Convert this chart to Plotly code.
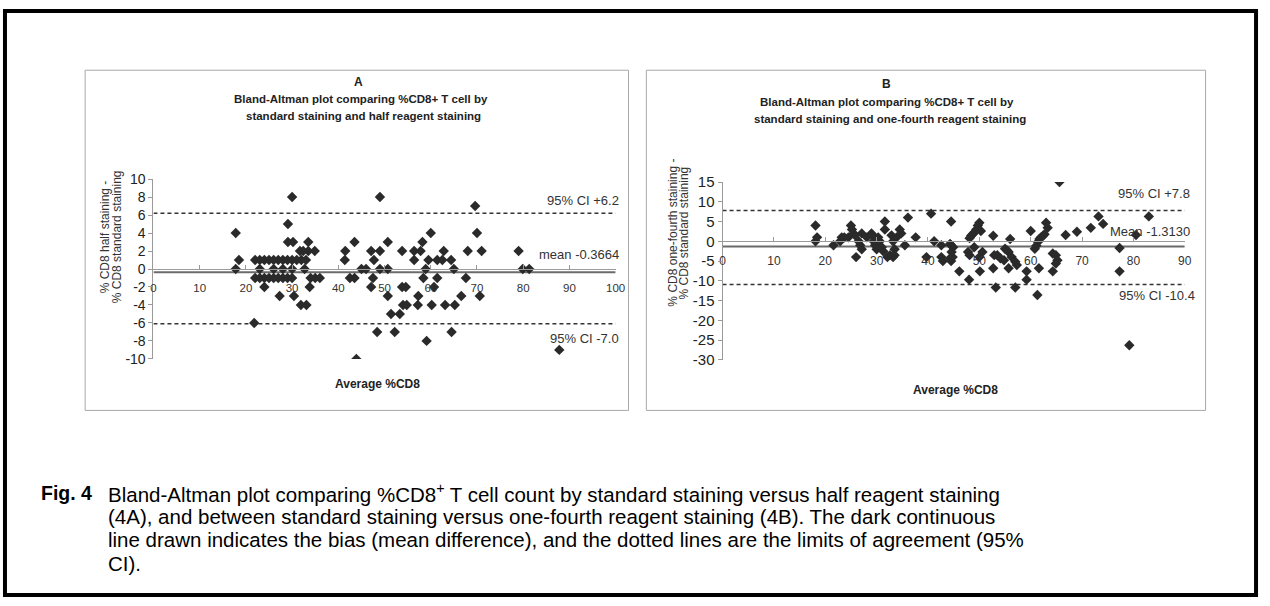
import plotly.graph_objects as go

W, H = 1270, 606

# ---------------- data ----------------
# Panel A: average %CD8 vs difference (half - standard)
a_x = [17.8, 17.8, 18.5, 21.8,
       22, 23, 24, 25, 26, 27, 28, 29, 30, 31, 32, 33,
       22, 23, 24, 25, 26, 27, 28, 29, 30, 34, 35, 36,
       23, 26, 28, 30, 32.7,
       31.7, 32.4, 33.5, 34.9, 41.5, 47.1, 49,
       29.1, 30.2, 33.5, 43.5, 50.7, 58.2,
       29.1,
       30, 49,
       24, 33.8, 47.1, 53.8, 54.6, 60.7,
       27.3, 30.4, 50.7, 57.3, 66.6, 70.6,
       31.9, 33.1, 54, 54.8, 57.2, 60.2, 63.1, 65.2,
       41.4, 47.7, 56.4, 59.5, 61.4, 62.5, 64.4,
       42.5, 43.5, 47.5, 58.4, 61.4, 67.6,
       45, 46, 49, 50.7, 58.9, 65, 79.9, 81.3,
       53.8, 56.4, 57.8, 62.8, 68, 71, 79,
       60, 70,
       69.6,
       51.4, 53.3,
       52.2, 64.5, 48.4,
       59.1,
       87.8,
       43.9]
a_y = [4, 0, 1, -6,
       1, 1, 1, 1, 1, 1, 1, 1, 1, 1, 1, 1,
       -1, -1, -1, -1, -1, -1, -1, -1, -1, -1, -1, -1,
       0, 0, 0, 0, 0,
       2, 2, 2, 2, 2, 2, 2,
       3, 3, 3, 3, 3, 3,
       5,
       8, 8,
       -2, -2, -2, -2, -2, -2,
       -3, -3, -3, -3, -3, -3,
       -4, -4, -4, -4, -4, -4, -4, -4,
       1, 1, 1, 1, 1, 1, 1,
       -1, -1, -1, -1, -1, -1,
       0, 0, 0, 0, 0, 0, 0, 0,
       2, 2, 2, 2, 2, 2, 2,
       4, 4,
       7,
       -5, -5,
       -7, -7, -7,
       -8,
       -9,
       -10]
a_mean, a_upper, a_lower = -0.3664, 6.2, -6.1
a_labels = ["95% CI +6.2", "mean -0.3664", "95% CI -7.0"]

# Panel B: average %CD8 vs difference (one-fourth - standard)
b_x = [18.1, 18.1, 18.4, 21.6, 22.9, 23.2, 23.7, 24.5, 25.0, 25.2, 25.5, 25.8,
       26.0, 26.5, 26.8, 27.1, 27.1, 28.1, 29.0, 29.2, 29.4, 29.7, 30.0,
       30.3, 30.6, 31.0, 31.3, 31.6, 31.6, 32.1, 32.6, 32.9, 33.2, 33.5, 33.9,
       33.2, 33.5, 34.5, 34.8, 35.5, 36.1, 37.6, 39.7, 40.6, 41.2, 42.6, 42.6,
       42.9, 44.5, 44.8, 44.5, 44.5,
       50.0, 49.7, 49.4, 49.0, 48.7, 48.4, 48.1, 50.3, 44.3, 44.9, 44.6, 44.3,
       47.8, 48.1, 49.0, 50.0, 50.6, 46.1, 48.0, 50.1, 52.7, 52.7, 53.2,
       52.9, 53.5, 54.1, 54.8, 55.0, 55.4, 55.7, 56.0, 55.7, 56.3, 57.0, 57.3,
       57.0, 59.2, 59.2, 60.0, 61.6, 61.3, 60.8, 61.1, 61.4, 61.7, 62.0, 62.4,
       62.7, 63.3, 63.0, 64.3, 64.3, 64.9, 65.2, 64.9, 65.6, 66.8, 69.0, 71.7,
       73.2, 74.1, 77.3, 77.3, 80.5, 83.0, 79.2]
b_y = [4, 0, 1, -1, 0, 1, 1, 1, 4, 3, 2, 1.5,
       -4, 0, -1, -2, 2, 1, 2, 1.5, 0, -1, -2,
       1, 0, -1.5, -2.5, 5, 3, -4, -3.5, 1.5, 0, -2, 1,
       -4, -3.5, 3, 2, -1, 6, 1, -4, 7, 0, -1, -4,
       -5, -1, -4, -5, 5,
       4.7, 4, 3, 2.2, 1.8, 1.4, 0.8, 2.6, -0.7, -1.5, -2.7, -4.3,
       -2.7, -3.5, -1.5, -4, -2.7, -7.6, -9.7, -7.6, 1.4, -6.8, -11.7,
       -3.5, -3.5, -4.3, -4.8, -1.9, -2.3, -2.7, 0.6, -6.8, -4, -5.2, -6,
       -11.7, -7.6, -9.7, 2.6, -6.8, -13.6, -1.9, -1.1, -0.2, 0.6, 1, 1.4,
       1.8, 3.4, 4.7, -7.6, -3.1, -3.5, -4.8, -5.6, 15, 1.6, 2.4, 3.4,
       6.3, 4.4, -1.7, -7.6, 1.6, 6.3, -26.3]
b_mean, b_upper, b_lower = -1.3130, 7.8, -10.9
b_labels = ["95% CI +7.8", "Mean -1.3130", "95% CI -10.4"]

a_xticks = [0, 10, 20, 30, 40, 50, 60, 70, 80, 90, 100]
a_yticks = [10, 8, 6, 4, 2, 0, -2, -4, -6, -8, -10]
b_xticks = [0, 10, 20, 30, 40, 50, 60, 70, 80, 90]
b_yticks = [15, 10, 5, 0, -5, -10, -15, -20, -25, -30]

a_ytitle = ["% CD8 half staining -", "% CD8 standard staining"]
b_ytitle = ["% CD8 one-fourth staining -", "% CD8 standard staining"]

caption = [
    "Bland-Altman plot comparing %CD8<sup>+</sup> T cell count by standard staining versus half reagent staining",
    "(4A), and between standard staining versus one-fourth reagent staining (4B). The dark continuous",
    "line drawn indicates the bias (mean difference), and the dotted lines are the limits of agreement (95%",
    "CI).",
]

# ---------------- helpers ----------------
def px(x):
    return x / W

def py(y):
    return 1 - y / H

ARIAL = "Liberation Sans, Arial, sans-serif"
DARK = "#2a2a2a"

fig = go.Figure()

# panel A traces
fig.add_trace(go.Scatter(x=[0, 100], y=[a_mean, a_mean], mode="lines",
                         line=dict(color="#6b6b6b", width=2), xaxis="x", yaxis="y",
                         showlegend=False, hoverinfo="skip"))
for v in (a_upper, a_lower):
    fig.add_trace(go.Scatter(x=[0, 100], y=[v, v], mode="lines",
                             line=dict(color="#333", width=1.5, dash="4px,3px"),
                             xaxis="x", yaxis="y", showlegend=False, hoverinfo="skip"))
fig.add_trace(go.Scatter(x=a_x, y=a_y, mode="markers",
                         marker=dict(symbol="diamond", size=8, color=DARK),
                         xaxis="x", yaxis="y", showlegend=False))

# panel B traces
fig.add_trace(go.Scatter(x=[0, 90], y=[b_mean, b_mean], mode="lines",
                         line=dict(color="#6b6b6b", width=2), xaxis="x2", yaxis="y2",
                         showlegend=False, hoverinfo="skip"))
for v in (b_upper, b_lower):
    fig.add_trace(go.Scatter(x=[0, 90], y=[v, v], mode="lines",
                             line=dict(color="#333", width=1.5, dash="4px,3px"),
                             xaxis="x2", yaxis="y2", showlegend=False, hoverinfo="skip"))
fig.add_trace(go.Scatter(x=b_x, y=b_y, mode="markers",
                         marker=dict(symbol="diamond", size=8, color=DARK),
                         xaxis="x2", yaxis="y2", showlegend=False))

# axes geometry (pixels)
A_X0, A_X1, A_YT, A_YB = 152, 619, 175, 360
B_X0, B_X1, B_YT, B_YB = 727, 1194, 178, 361

def zero_pos(yt, yb, top, bot):
    return yt + (yb - yt) * top / (top - bot)

a_zero = zero_pos(A_YT, A_YB, 10, -10)
b_zero = zero_pos(B_YT, B_YB, 15, -30)

xcommon = dict(showgrid=False, zeroline=False, showline=True, linecolor="#9a9a9a",
               linewidth=1, ticks="inside", ticklen=4, tickcolor="#9a9a9a",
               anchor="free", ticklabelstandoff=8)
ycommon = dict(showgrid=False, zeroline=False, showline=True, linecolor="#9a9a9a",
               linewidth=1, ticks="outside", ticklen=4, tickcolor="#9a9a9a")

fig.update_layout(
    width=W, height=H, margin=dict(l=0, r=0, t=0, b=0),
    paper_bgcolor="white", plot_bgcolor="white",
    xaxis=dict(domain=[px(A_X0), px(A_X1)], range=[0, 100], tickvals=a_xticks,
               ticktext=[str(v) for v in a_xticks],
               position=py(a_zero), tickfont=dict(family=ARIAL, size=11.5, color="#333"),
               **xcommon),
    yaxis=dict(domain=[py(A_YB), py(A_YT)], range=[-10, 10], tickvals=a_yticks,
               ticktext=[str(v) for v in a_yticks],
               anchor="x", tickfont=dict(family=ARIAL, size=14, color="#222"), **ycommon),
    xaxis2=dict(domain=[px(B_X0), px(B_X1)], range=[0, 90], tickvals=b_xticks,
                ticktext=[str(v) for v in b_xticks],
                position=py(b_zero), tickfont=dict(family=ARIAL, size=12, color="#333"),
                **xcommon),
    yaxis2=dict(domain=[py(B_YB), py(B_YT)], range=[-30, 15], tickvals=b_yticks,
                ticktext=[str(v) for v in b_yticks],
                anchor="x2", tickfont=dict(family=ARIAL, size=15, color="#222"), **ycommon),
)

ann = []
def text(x, y, s, size=12, family=ARIAL, bold=False, xanchor="center", angle=0, color="#222"):
    ann.append(dict(x=px(x), y=py(y), xref="paper", yref="paper", text=(f"<b>{s}</b>" if bold else s),
                    showarrow=False, xanchor=xanchor, yanchor="middle", textangle=angle,
                    font=dict(family=family, size=size, color=color), align="center"))

# panel titles
text(359, 75, "A", 12, ARIAL, True)
text(362, 93, "Bland-Altman plot comparing %CD8+ T cell by", 11.5, ARIAL, True)
text(364, 110, "standard staining and half reagent staining", 11.5, ARIAL, True)
text(893, 77, "B", 12, ARIAL, True)
text(893, 96, "Bland-Altman plot comparing %CD8+ T cell by", 11.5, ARIAL, True)
text(896, 113, "standard staining and one-fourth reagent staining", 11.5, ARIAL, True)

# axis titles
text(378, 386, "Average %CD8", 12, ARIAL, True)
text(962, 392, "Average %CD8", 12, ARIAL, True)
text(104, 234, a_ytitle[0], 12, ARIAL, False, angle=-90, color="#333")
text(116, 234, a_ytitle[1], 12, ARIAL, False, angle=-90, color="#333")
text(676, 230, b_ytitle[0], 12, ARIAL, False, angle=-90, color="#333")
text(688, 230, b_ytitle[1], 12, ARIAL, False, angle=-90, color="#333")

# reference-line labels
text(624, 197, a_labels[0], 13, ARIAL, False, xanchor="right", color="#333")
text(624, 253, a_labels[1], 13, ARIAL, False, xanchor="right", color="#333")
text(624, 339, a_labels[2], 13, ARIAL, False, xanchor="right", color="#333")
text(1201, 190, b_labels[0], 13, ARIAL, False, xanchor="right", color="#333")
text(1201, 229, b_labels[1], 13, ARIAL, False, xanchor="right", color="#333")
text(1206, 295, b_labels[2], 13, ARIAL, False, xanchor="right", color="#333")

# caption
text(36, 498, "Fig. 4", 19.5, ARIAL, True, xanchor="left", color="#000")
for i, line in enumerate(caption):
    text(104, 498 + 24 * i, line, 20.5, ARIAL, False, xanchor="left", color="#000")

fig.update_layout(annotations=ann)

# boxes
shapes = [
    dict(type="rect", xref="paper", yref="paper", x0=px(83), x1=px(632), y0=py(413), y1=py(63),
         line=dict(color="#a8a8a8", width=1)),
    dict(type="rect", xref="paper", yref="paper", x0=px(650), x1=px(1215), y0=py(413), y1=py(63),
         line=dict(color="#a8a8a8", width=1)),
    dict(type="rect", xref="paper", yref="paper", x0=px(2), x1=px(1266), y0=py(603), y1=py(2),
         line=dict(color="#000", width=4)),
]
fig.update_layout(shapes=shapes)

fig.write_html("out.html")
